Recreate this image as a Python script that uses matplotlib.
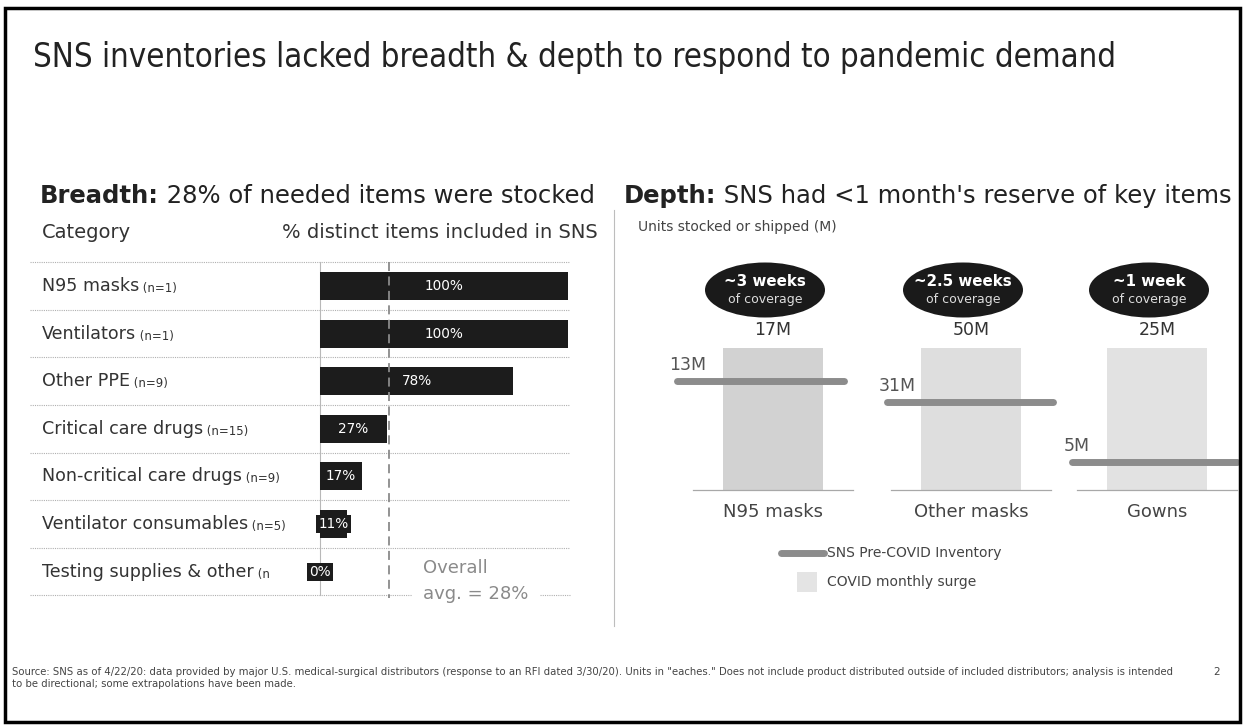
import matplotlib
matplotlib.use('Agg')
import matplotlib.pyplot as plt
from matplotlib.patches import Ellipse, Rectangle
import numpy as np

W, H = 1245, 727

# ---------------- data ----------------
title = "SNS inventories lacked breadth & depth to respond to pandemic demand"
categories = ["N95 masks", "Ventilators", "Other PPE", "Critical care drugs",
              "Non-critical care drugs", "Ventilator consumables", "Testing supplies & other"]
cat_counts = ["(n=1)", "(n=1)", "(n=9)", "(n=15)", "(n=9)", "(n=5)", "(n"]
pct_included = [100, 100, 78, 27, 17, 11, 0]
overall_avg = 28

depth_items = ["N95 masks", "Other masks", "Gowns"]
surge_monthly = [17, 50, 25]          # COVID monthly surge (M units)
pre_covid_inventory = [13, 31, 5]     # SNS pre-COVID inventory (M units)
coverage = ["~3 weeks", "~2.5 weeks", "~1 week"]

footer1 = ("Source: SNS as of 4/22/20: data provided by major U.S. medical-surgical distributors "
           "(response to an RFI dated 3/30/20). Units in \"eaches.\" Does not include product distributed "
           "outside of included distributors; analysis is intended")
footer2 = "to be directional; some extrapolations have been made."

# ---------------- figure ----------------
fig = plt.figure(figsize=(W / 100, H / 100), dpi=100)
fig.patch.set_facecolor('white')


def fx(x):
    return x / W


def fy(y):
    return 1 - y / H


TXT = '#333333'
BODY = ['DejaVu Sans']
COND = dict(family=['DejaVu Sans'], stretch='condensed')

# ---------------- left panel: breadth ----------------
x0_px, x100_px = 320, 568
ppu = (x100_px - x0_px) / 100.0
row0_px, row_step = 286, 47.6
axL_l, axL_r, axL_t, axL_b = 30, 612, 250, 600
axL = fig.add_axes([fx(axL_l), fy(axL_b), (axL_r - axL_l) / W, (axL_b - axL_t) / H])
axL.set_xlim(-(x0_px - axL_l) / ppu, (axL_r - x0_px) / ppu)
axL.set_ylim((axL_b - row0_px) / row_step, (axL_t - row0_px) / row_step)
axL.axis('off')

rows = np.arange(len(categories))
axL.barh(rows, pct_included, height=0.59, color='#1c1c1c', zorder=2)

xl = axL.get_xlim()[0]
sep_right = (570 - x0_px) / ppu
for b in np.arange(-0.5, len(categories)):
    if b < len(categories) - 1:
        axL.plot([xl, sep_right], [b, b], ls=(0, (1, 1)), color='#b0b0b0', lw=0.8, zorder=1)
    else:
        axL.plot([xl, (412 - x0_px) / ppu], [b, b], ls=(0, (1, 1)), color='#b0b0b0', lw=0.8, zorder=1)
        axL.plot([(540 - x0_px) / ppu, sep_right], [b, b], ls=(0, (1, 1)), color='#b0b0b0', lw=0.8, zorder=1)

axL.plot([0, 0], [-0.5, len(categories) - 0.5], color='#b8b8b8', lw=0.8, zorder=1)
axL.plot([overall_avg, overall_avg], [-0.5, len(categories) - 0.45], ls=(0, (5, 3)),
         color='#8a8a8a', lw=1.3, zorder=4)

for i, v in enumerate(pct_included):
    if v >= 15:
        axL.text(v / 2, i, f"{v}%", color='white', fontsize=9.8, ha='center', va='center',
                 zorder=5, fontfamily=BODY)
    else:
        axL.text(v / 2, i, f"{v}%", color='white', fontsize=9.8, ha='center', va='center',
                 zorder=5, fontfamily=BODY,
                 bbox=dict(boxstyle='square,pad=0.15', fc='#1c1c1c', ec='none'))

# ---------------- overlay for text / decoration ----------------
ov = fig.add_axes([0, 0, 1, 1], zorder=10)
ov.set_xlim(0, W)
ov.set_ylim(H, 0)
ov.axis('off')
ov.patch.set_alpha(0)

# frame
ov.add_patch(Rectangle((5, 8), 1235, 714, fill=False, ec='black', lw=2.5))

# title
ov.text(33, 58, title, fontsize=23.7, color='#222222', va='center', ha='left', **COND)

# section headers
t = ov.text(40, 196, "Breadth:", fontsize=17.5, fontweight='bold', color='#222222',
            va='center', ha='left', fontfamily=BODY)
ov.annotate(" 28% of needed items were stocked", xy=(1, 0.5), xycoords=t, va='center', ha='left',
            fontsize=17.5, color='#222222', fontfamily=BODY)
t = ov.text(624, 196, "Depth:", fontsize=17.5, fontweight='bold', color='#222222',
            va='center', ha='left', fontfamily=BODY)
ov.annotate(" SNS had <1 month's reserve of key items", xy=(1, 0.5), xycoords=t, va='center',
            ha='left', fontsize=17.5, color='#222222', fontfamily=BODY)

ov.text(42, 233, "Category", fontsize=14, color=TXT, va='center', ha='left', fontfamily=BODY)
ov.text(598, 233, "% distinct items included in SNS", fontsize=14, color=TXT, va='center',
        ha='right', fontfamily=BODY)

for i, (c, n) in enumerate(zip(categories, cat_counts)):
    y = row0_px + i * row_step
    t = ov.text(42, y + 5, c, fontsize=12.6, color=TXT, va='baseline', ha='left', fontfamily=BODY)
    ov.annotate(" " + n, xy=(1, 0), xycoords=t, va='bottom', ha='left', fontsize=8.5,
                color=TXT, fontfamily=BODY)

ov.text(423, 568, "Overall", fontsize=13, color='#8a8a8a', va='center', ha='left', fontfamily=BODY)
ov.text(423, 594, "avg. = 28%", fontsize=13, color='#8a8a8a', va='center', ha='left', fontfamily=BODY)

# panel divider
ov.plot([614, 614], [210, 626], color='#bdbdbd', lw=0.8)

# ---------------- right panel: depth ----------------
ov.text(638, 227, "Units stocked or shipped (M)", fontsize=10, color='#444444', va='center',
        ha='left', fontfamily=BODY)

centers_px = [773, 971, 1157]
line_left = [-0.96, -0.84, -0.85]
line_right = [0.71, 0.82, 0.80]
bar_top_px, base_px = 348, 490
surge_colors = ['#d2d2d2', '#dedede', '#e2e2e2']
for k, (name, s, inv) in enumerate(zip(depth_items, surge_monthly, pre_covid_inventory)):
    cx = centers_px[k]
    ax = fig.add_axes([fx(cx - 100), fy(base_px), 200 / W, (base_px - bar_top_px) / H])
    ax.set_xlim(-1, 1)
    ax.set_ylim(0, s)
    ax.axis('off')
    ax.bar(0, s, width=1.0, color=surge_colors[k], zorder=1)
    ax.plot([-0.8, 0.8], [0, 0], color='#a8a8a8', lw=0.9, clip_on=False, zorder=2)
    ax.plot([line_left[k], line_right[k]], [inv, inv], color='#8c8c8c', lw=5,
            solid_capstyle='round', clip_on=False, zorder=3)
    ax.annotate(f"{inv}M", xy=(line_left[k], inv), xytext=(-6, 5), textcoords='offset points',
                ha='left', va='bottom', fontsize=12.5, color='#555555', fontfamily=BODY)
    ax.annotate(f"{s}M", xy=(0, s), xytext=(0, 13), textcoords='offset points',
                ha='center', va='center', fontsize=12.5, color=TXT, fontfamily=BODY)
    ax.annotate(name, xy=(0, 0), xytext=(0, -16), textcoords='offset points',
                ha='center', va='center', fontsize=13, color='#444444', fontfamily=BODY)
    ex = cx - 8
    ov.add_patch(Ellipse((ex, 290), 120, 55, fc='#1a1a1a', ec='none'))
    ov.text(ex, 281, coverage[k], fontsize=10.8, fontweight='bold', color='white', ha='center',
            va='center', fontfamily=BODY)
    ov.text(ex, 299, "of coverage", fontsize=9, color='#dddddd', ha='center', va='center',
            fontfamily=BODY)

# legend
ov.plot([781, 824], [553, 553], color='#8c8c8c', lw=5, solid_capstyle='round')
ov.text(827, 553, "SNS Pre-COVID Inventory", fontsize=10, color='#444444', va='center',
        ha='left', fontfamily=BODY)
ov.add_patch(Rectangle((797, 572), 20, 20, fc='#e4e4e4', ec='none'))
ov.text(827, 582, "COVID monthly surge", fontsize=10, color='#444444', va='center',
        ha='left', fontfamily=BODY)

# footer
ov.text(12, 672, footer1, fontsize=7.3, color='#444444', va='center', ha='left', fontfamily=BODY)
ov.text(12, 684, footer2, fontsize=7.3, color='#444444', va='center', ha='left', fontfamily=BODY)
ov.text(1213, 672, "2", fontsize=7.5, color='#444444', va='center', ha='left', fontfamily=BODY)

fig.savefig('out.png', dpi=100, facecolor='white')
